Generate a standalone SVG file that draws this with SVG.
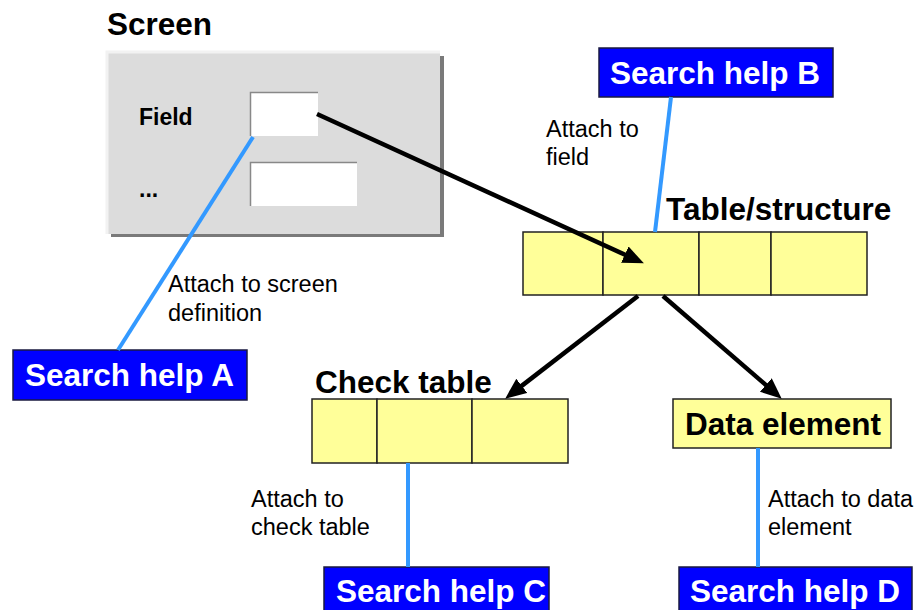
<svg xmlns="http://www.w3.org/2000/svg" width="919" height="610" viewBox="0 0 919 610">
<style>
.title{font-family:"Liberation Sans",Arial,sans-serif;font-weight:bold;font-size:31.5px;fill:#000}
.sh{font-family:"Liberation Sans",Arial,sans-serif;font-weight:bold;font-size:31.5px;fill:#fff}
.lbl{font-family:"Liberation Sans",Arial,sans-serif;font-size:23.5px;fill:#000}
.fld{font-family:"Liberation Sans",Arial,sans-serif;font-weight:bold;font-size:23px;fill:#000}
.shbox{fill:#0000ff;stroke:#1a1a40;stroke-width:1.5}
.cell{fill:#ffff99;stroke:#222;stroke-width:1.5}
.blue{stroke:#3399ff;stroke-width:4;fill:none}
.arr{stroke:#000;stroke-width:4.5;fill:none;marker-end:url(#ah)}
</style>
<defs>
<marker id="ah" markerUnits="userSpaceOnUse" markerWidth="22" markerHeight="20" viewBox="0 0 22 20" refX="10" refY="9" orient="auto">
<path d="M0,0 L21,9 L0,18 z" fill="#000"/>
</marker>
</defs>
<rect width="919" height="610" fill="#fff"/>

<g id="screen">
<text class="title" x="107" y="35">Screen</text>
<rect x="111" y="56" width="333" height="181" fill="#7a7a7a"/>
<rect x="107" y="52" width="333" height="182" fill="#dcdcdc"/>
<path d="M107,234 L107,52 L440,52" fill="none" stroke="#f2f2f2" stroke-width="3"/>
<text class="fld" x="139" y="125">Field</text>
<text class="fld" x="139" y="197">...</text>
<rect x="250" y="92" width="68" height="44" fill="#fff"/>
<path d="M250.5,136 L250.5,92.5 L318,92.5" fill="none" stroke="#888" stroke-width="1.5"/>
<rect x="250" y="162" width="107" height="44" fill="#fff"/>
<path d="M250.5,206 L250.5,162.5 L357,162.5" fill="none" stroke="#888" stroke-width="1.5"/>
</g>

<g id="table">
<text class="title" x="666" y="220">Table/structure</text>
<rect class="cell" x="523" y="232" width="80" height="63"/>
<rect class="cell" x="603" y="232" width="96" height="63"/>
<rect class="cell" x="699" y="232" width="72" height="63"/>
<rect class="cell" x="771" y="232" width="96" height="63"/>
</g>

<g id="checktable">
<text class="title" x="315" y="393">Check table</text>
<rect class="cell" x="312" y="399" width="65" height="64"/>
<rect class="cell" x="377" y="399" width="95" height="64"/>
<rect class="cell" x="472" y="399" width="96" height="64"/>
</g>

<g id="dataelement">
<rect class="cell" x="673" y="399" width="218" height="49"/>
<text class="title" x="685" y="435">Data element</text>
</g>

<g id="shA">
<rect class="shbox" x="13" y="350" width="234" height="50"/>
<text class="sh" x="25" y="386">Search help A</text>
</g>
<g id="shB">
<rect class="shbox" x="599" y="48" width="234" height="49"/>
<text class="sh" x="610" y="84">Search help B</text>
</g>
<g id="shC">
<rect class="shbox" x="324" y="567" width="225" height="50"/>
<text class="sh" x="336" y="602">Search help C</text>
</g>
<g id="shD">
<rect class="shbox" x="679" y="567" width="233" height="50"/>
<text class="sh" x="690" y="602">Search help D</text>
</g>

<g id="connectors">
<line class="blue" x1="253" y1="137" x2="118" y2="350"/>
<line class="blue" x1="671" y1="97" x2="655" y2="232"/>
<line class="blue" x1="408" y1="463" x2="408" y2="567"/>
<line class="blue" x1="758" y1="448" x2="758" y2="567"/>
<line class="arr" x1="317" y1="114" x2="633.9" y2="258.8"/>
<line class="arr" x1="638" y1="296" x2="513.9" y2="391.9"/>
<line class="arr" x1="663" y1="296" x2="773.4" y2="391.5"/>
</g>

<g id="labels">
<text class="lbl" x="168" y="292">Attach to screen</text>
<text class="lbl" x="168" y="321">definition</text>
<text class="lbl" x="546" y="137">Attach to</text>
<text class="lbl" x="546" y="165">field</text>
<text class="lbl" x="251" y="507">Attach to</text>
<text class="lbl" x="251" y="535">check table</text>
<text class="lbl" x="768" y="507">Attach to data</text>
<text class="lbl" x="768" y="535">element</text>
</g>
</svg>
